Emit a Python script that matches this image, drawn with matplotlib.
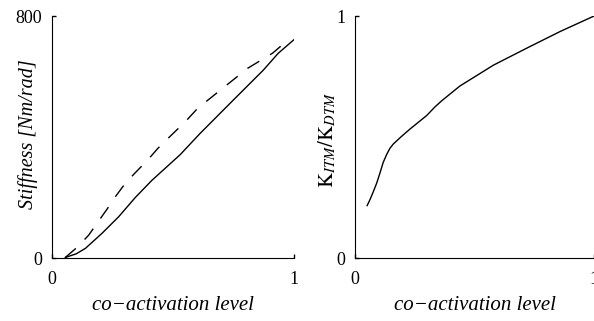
import numpy as np
import matplotlib.pyplot as plt

plt.rcParams['font.family'] = ['Liberation Serif', 'DejaVu Serif']
plt.rcParams['mathtext.fontset'] = 'stix'
plt.rcParams['font.size'] = 12

# stiffness vs co-activation (solid and dashed models)
act_solid = [0.055, 0.10, 0.138, 0.207, 0.276, 0.344, 0.413, 0.530, 0.612, 0.749, 0.873, 0.935, 1.0]
stiff_solid = [2, 14, 32, 82, 137, 200, 257, 342, 412, 522, 621, 677, 722]

act_dash = [0.055, 0.103, 0.152, 0.186, 0.227, 0.262, 0.303, 0.344, 0.393, 0.438, 0.489,
            0.55, 0.602, 0.705, 0.808, 0.911, 0.945]
stiff_dash = [2, 35, 76, 115, 161, 203, 247, 282, 322, 363, 403,
              450, 495, 561, 627, 677, 700]

# stiffness ratio
act_ratio = [0.051, 0.063, 0.077, 0.091, 0.105, 0.118, 0.133, 0.146, 0.160, 0.195, 0.230,
             0.265, 0.300, 0.335, 0.363, 0.439, 0.579, 0.718, 0.858, 1.0]
ratio = [0.217, 0.242, 0.275, 0.310, 0.353, 0.395, 0.429, 0.453, 0.471, 0.503, 0.533,
         0.561, 0.589, 0.625, 0.650, 0.711, 0.797, 0.867, 0.936, 1.0]

fig = plt.figure(figsize=(5.94, 3.21), dpi=100)
ax1 = fig.add_axes([0.0875, 0.196, 0.4074, 0.754])
ax2 = fig.add_axes([0.5976, 0.196, 0.4024, 0.754])

ax1.plot(act_solid, stiff_solid, color='k', lw=1)
ax1.plot(act_dash, stiff_dash, color='k', lw=1, dashes=(10, 9))
ax1.set_xlim(0, 1)
ax1.set_ylim(0, 800)
ax1.set_xticks([0, 1])
ax1.set_xticklabels(['0', '1'])
ax1.set_yticks([0, 800])
ax1.set_yticklabels(['0', '800'])
ax1.set_ylabel('Stiffness [Nm/rad]', style='italic', fontsize=14.5, va='center')
ax1.yaxis.set_label_coords(-0.099, 0.512)
ax1.set_xlabel('co\u2212activation level', style='italic', fontsize=15, va='center')
ax1.xaxis.set_label_coords(0.5, -0.194)

ax2.plot(act_ratio, ratio, color='k', lw=1)
ax2.set_xlim(0, 1)
ax2.set_ylim(0, 1)
ax2.set_xticks([0, 1])
ax2.set_xticklabels(['0', '1'])
ax2.set_yticks([0, 1])
ax2.set_yticklabels(['0', '1'])
ax2.set_ylabel(r'$\mathrm{K}_{ITM}/\mathrm{K}_{DTM}$', fontsize=15, va='center')
ax2.yaxis.set_label_coords(-0.117, 0.488)
ax2.set_xlabel('co\u2212activation level', style='italic', fontsize=15, va='center')
ax2.xaxis.set_label_coords(0.502, -0.194)

for ax in (ax1, ax2):
    ax.spines['top'].set_visible(False)
    ax.spines['right'].set_visible(False)
    ax.tick_params(direction='in', length=3, width=1, labelsize=13)
    ax.tick_params(axis='x', pad=9)
    ax.tick_params(axis='y', pad=7)

fig.savefig('out.png', dpi=100)
